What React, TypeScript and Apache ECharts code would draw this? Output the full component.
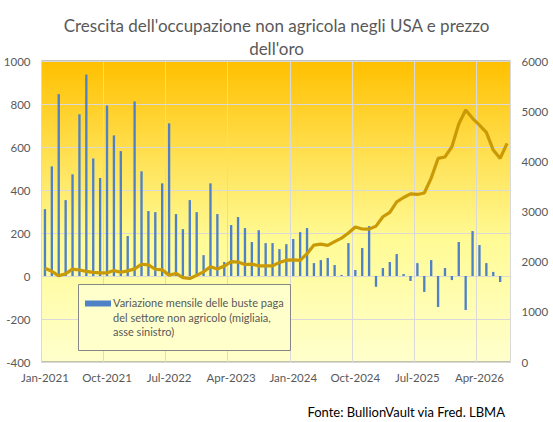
import React, { useEffect, useRef } from "react";
import * as echarts from "echarts";

const categories = [
  "Jan-2021","Feb-2021","Mar-2021","Apr-2021","May-2021","Jun-2021","Jul-2021","Aug-2021","Sep-2021","Oct-2021","Nov-2021","Dec-2021",
  "Jan-2022","Feb-2022","Mar-2022","Apr-2022","May-2022","Jun-2022","Jul-2022","Aug-2022","Sep-2022","Oct-2022","Nov-2022","Dec-2022",
  "Jan-2023","Feb-2023","Mar-2023","Apr-2023","May-2023","Jun-2023","Jul-2023","Aug-2023","Sep-2023","Oct-2023","Nov-2023","Dec-2023",
  "Jan-2024","Feb-2024","Mar-2024","Apr-2024","May-2024","Jun-2024","Jul-2024","Aug-2024","Sep-2024","Oct-2024","Nov-2024","Dec-2024",
  "Jan-2025","Feb-2025","Mar-2025","Apr-2025","May-2025","Jun-2025","Jul-2025","Aug-2025","Sep-2025","Oct-2025","Nov-2025","Dec-2025",
  "Jan-2026","Feb-2026","Mar-2026","Apr-2026","May-2026","Jun-2026","Jul-2026","Aug-2026",
];

// Monthly change in non-farm payrolls (thousands, left axis)
const payrolls = [
  311, 510, 846, 353, 473, 752, 937, 547, 456, 793, 654, 581,
  186, 812, 487, 302, 297, 431, 710, 288, 218, 353, 297, 97,
  431, 288, 65, 237, 274, 223, 158, 213, 153, 153, 125, 148,
  172, 204, 223, 60, 74, 84, 51, 5, 153, 28, 130, 232,
  -50, 37, 65, 102, 9, -23, 60, -74, 74, -144, 37, -19,
  158, -158, 209, 144, 60, 19, -28, null,
];

// Gold price (USD/oz, right axis)
const gold = [
  1867, 1808, 1718, 1760, 1850, 1834, 1807, 1785, 1775, 1777, 1822, 1790,
  1817, 1856, 1948, 1937, 1849, 1836, 1732, 1765, 1681, 1664, 1726, 1798,
  1898, 1855, 1912, 2000, 1992, 1943, 1951, 1918, 1916, 1917, 1985, 2030,
  2034, 2024, 2160, 2331, 2351, 2326, 2398, 2470, 2571, 2690, 2651, 2648,
  2709, 2895, 2983, 3194, 3279, 3352, 3340, 3368, 3665, 4058, 4087, 4291,
  4744, 5022, 4857, 4723, 4578, 4225, 4059, 4358,
];

const titleText = "Crescita dell'occupazione non agricola negli USA e prezzo\ndell'oro";
const legendText = "Variazione mensile delle buste paga\ndel settore non agricolo (migliaia,\nasse sinistro)";
const sourceText = "Fonte: BullionVault via Fred. LBMA";

const FONT = "Lato, 'Open Sans', sans-serif";

export default function App() {
  const ref = useRef<HTMLDivElement>(null);
  useEffect(() => {
    document.body.style.margin = "0";
    if (!ref.current) return;
    const chart = echarts.init(ref.current, null, { renderer: "svg" });
    const plain = (v: number) => String(v);
    chart.setOption({
      animation: false,
      backgroundColor: "#ffffff",
      textStyle: { fontFamily: FONT },
      title: {
        text: titleText,
        left: "center",
        top: 9,
        textStyle: {
          fontFamily: FONT,
          fontSize: 17,
          fontWeight: "normal",
          color: "#595959",
          lineHeight: 23,
        },
      },
      grid: {
        left: 41.5,
        right: 42.5,
        top: 61,
        bottom: 60,
        show: true,
        borderColor: "#868686",
        borderWidth: 1,
        backgroundColor: new echarts.graphic.LinearGradient(0, 0, 0, 1, [
          { offset: 0, color: "#FFC000" },
          { offset: 0.35, color: "#FFE45C" },
          { offset: 0.6, color: "#FFFB96" },
          { offset: 1, color: "#FFFFCC" },
        ]),
      },
      xAxis: {
        type: "category",
        data: categories,
        boundaryGap: true,
        axisLine: { show: false, onZero: false },
        axisTick: { show: false },
        axisLabel: {
          interval: 8,
          color: "#595959",
          fontFamily: FONT,
          fontSize: 11.5,
          margin: 9,
        },
        splitLine: {
          show: true,
          interval: 8,
          lineStyle: { color: "#D9D9D9", width: 1 },
        },
      },
      yAxis: [
        {
          type: "value",
          min: -400,
          max: 1000,
          interval: 200,
          position: "left",
          axisLine: { show: false },
          axisTick: { show: false },
          axisLabel: { color: "#595959", fontFamily: FONT, fontSize: 11.5, margin: 11, formatter: plain },
          splitLine: { show: true, lineStyle: { color: "#D9D9D9", width: 1 } },
        },
        {
          type: "value",
          min: 0,
          max: 6000,
          interval: 1000,
          position: "right",
          axisLine: { show: false },
          axisTick: { show: false },
          axisLabel: { color: "#595959", fontFamily: FONT, fontSize: 11.5, margin: 11, formatter: plain },
          splitLine: { show: false },
        },
      ],
      series: [
        {
          name: "Payrolls",
          type: "bar",
          yAxisIndex: 0,
          data: payrolls,
          barWidth: "34%",
          itemStyle: { color: "#4F81C7" },
          z: 2,
        },
        {
          name: "Gold",
          type: "line",
          yAxisIndex: 1,
          data: gold,
          symbol: "none",
          smooth: false,
          lineStyle: { color: "#C99A06", width: 3.2 },
          z: 3,
        },
      ],
      graphic: [
        {
          type: "rect",
          shape: { x: 78.5, y: 284.5, width: 212, height: 66 },
          style: { fill: "#FFFFCC", stroke: "#868686", lineWidth: 1 },
          z: 10,
        },
        {
          type: "rect",
          shape: { x: 85, y: 300.5, width: 26, height: 6 },
          style: { fill: "#4F81C7" },
          z: 11,
        },
        {
          type: "text",
          x: 113,
          y: 295.5,
          style: {
            text: legendText,
            fill: "#595959",
            fontFamily: FONT,
            fontSize: 11,
            lineHeight: 14.5,
            textVerticalAlign: "top",
          },
          z: 11,
        },
        {
          type: "text",
          x: 505,
          y: 412,
          style: {
            text: sourceText,
            fill: "#000000",
            fontFamily: FONT,
            fontSize: 13,
            textAlign: "right",
            textVerticalAlign: "middle",
          },
          z: 11,
        },
      ],
    });
    return () => chart.dispose();
  }, []);
  return <div ref={ref} style={{ width: 553, height: 422 }} />;
}
